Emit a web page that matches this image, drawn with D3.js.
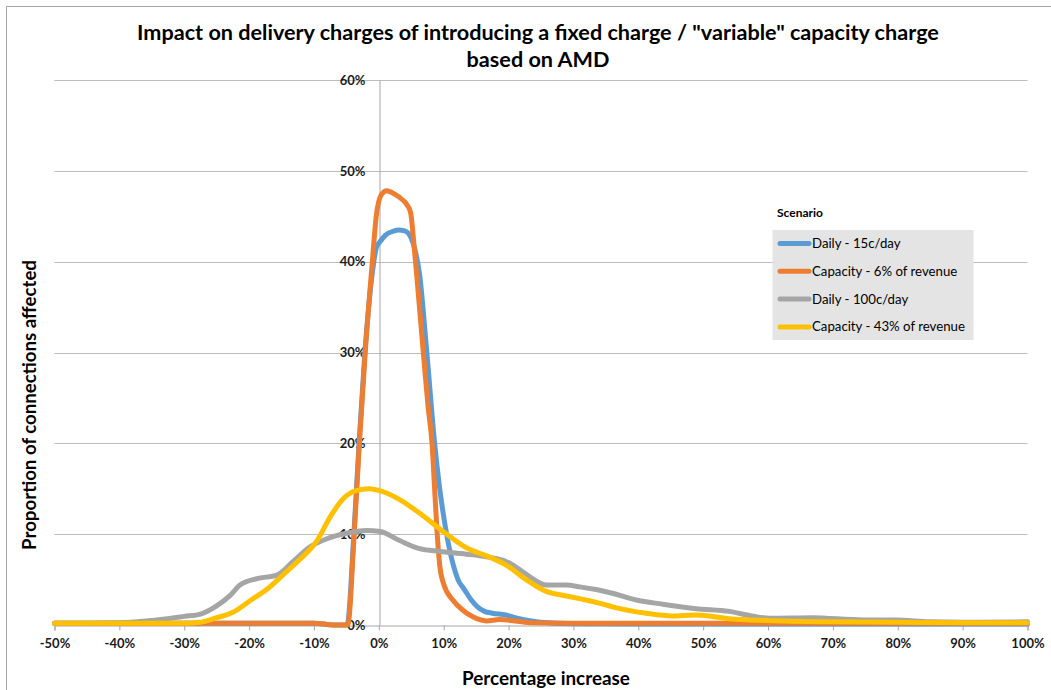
<!DOCTYPE html>
<html>
<head>
<meta charset="utf-8">
<script src="https://cdn.jsdelivr.net/npm/d3@7"></script>
<style>
  body { margin: 0; background: #fff; }
  svg { display: block; }
  text { font-family: Lato, "Open Sans", "DejaVu Sans", sans-serif; }
</style>
</head>
<body>
<svg id="chart" width="1051" height="690"></svg>
<script>
// ---- Axis ticks ----
const xTicks = [-50, -40, -30, -20, -10, 0, 10, 20, 30, 40, 50, 60, 70, 80, 90, 100];
const yTicks = [0, 10, 20, 30, 40, 50, 60];

// ---- Scenario names ----
const scenarios = ["Daily - 15c/day", "Capacity - 6% of revenue", "Daily - 100c/day", "Capacity - 43% of revenue"];

// ---- Daily - 15c/day : percentage increase / share of connections (%) ----
const daily15X = [-50, -40, -30, -20, -10, -7, -4.9, -3.85, -3.05, -2.15, -1.05, -0.4, 0.3, 1, 2, 3, 4, 4.6, 5.3, 6.3, 7.4, 8.6, 9.3, 10.4, 11.4, 12.2, 13.2, 14.2, 15.2, 16.3, 17.5, 19.6, 21, 22.7, 25, 30, 40, 50, 60, 70, 80, 90, 100];
const daily15Y = [0.2, 0.2, 0.2, 0.2, 0.2, 0, 0, 10, 20, 30, 38.5, 41.5, 42.3, 42.9, 43.3, 43.5, 43.4, 43.1, 42, 38.5, 30, 20, 15.5, 10.2, 6.8, 5, 3.9, 2.8, 2, 1.5, 1.3, 1.1, 0.8, 0.55, 0.3, 0.15, 0.1, 0.1, 0.1, 0.1, 0.1, 0.1, 0.1];

// ---- Capacity - 6% of revenue ----
const cap6X = [-50, -40, -30, -20, -10, -7, -4.8, -3.8, -3.0, -2.1, -1.0, -0.4, 0.4, 1.2, 2.5, 3.5, 4.3, 4.9, 5.4, 5.9, 6.5, 7.1, 7.6, 8.2, 8.6, 9.0, 9.4, 10, 11.4, 13, 14.5, 16.6, 18.6, 21, 23.7, 30, 40, 50, 60, 70, 80, 90, 100];
const cap6Y = [0.2, 0.2, 0.2, 0.2, 0.2, 0, 0, 10, 20, 30, 40, 45, 47.4, 47.8, 47.4, 46.9, 46.3, 45.4, 42, 38, 33, 28, 24, 20, 15, 10, 6.5, 4.5, 2.75, 1.6, 0.9, 0.45, 0.6, 0.45, 0.25, 0.2, 0.2, 0.2, 0.2, 0.2, 0.2, 0.2, 0.2];

// ---- Daily - 100c/day ----
const daily100X = [-50, -45, -40, -35, -32.6, -30, -27.5, -25, -23, -21.4, -18.8, -15.7, -13.2, -10.6, -8, -5, -1.9, 0.2, 3.2, 6.3, 9.4, 13.5, 16.6, 19.6, 21.7, 23.7, 25.8, 28.9, 31, 33.5, 36, 39.7, 43.7, 48.9, 54, 57.5, 60.2, 66.8, 74.5, 79.7, 84.8, 90, 100];
const daily100Y = [0.2, 0.2, 0.25, 0.5, 0.7, 0.95, 1.2, 2.1, 3.2, 4.4, 5.1, 5.5, 7, 8.6, 9.5, 10.1, 10.4, 10.3, 9.3, 8.4, 8.1, 7.8, 7.5, 7, 6.1, 5.1, 4.4, 4.4, 4.2, 3.9, 3.5, 2.75, 2.3, 1.8, 1.5, 1, 0.75, 0.8, 0.55, 0.55, 0.35, 0.3, 0.35];

// ---- Capacity - 43% of revenue ----
const cap43X = [-50, -40, -30, -27.5, -25, -22.5, -19.8, -17.3, -14.8, -12.2, -9.6, -7.5, -5.5, -3.5, -1.5, 0.5, 3.2, 6.3, 9.9, 13.5, 17, 19.6, 22.7, 25.8, 28.9, 30.9, 34, 36, 41.2, 45.2, 48.9, 54, 59.7, 70, 80, 90, 100];
const cap43Y = [0.2, 0.2, 0.2, 0.3, 0.8, 1.4, 2.7, 3.9, 5.5, 7.2, 9.2, 11.9, 13.9, 14.8, 15, 14.7, 13.8, 12.3, 10.3, 8.5, 7.5, 6.6, 5, 3.7, 3.2, 2.9, 2.4, 2.0, 1.3, 1.0, 1.1, 0.7, 0.5, 0.35, 0.3, 0.25, 0.25];

const colors = ["#5b9bd5", "#ed7d31", "#a5a5a5", "#ffc000"];

const seriesList = [
  { name: scenarios[0], xs: daily15X, ys: daily15Y, color: colors[0] },
  { name: scenarios[1], xs: cap6X, ys: cap6Y, color: colors[1] },
  { name: scenarios[2], xs: daily100X, ys: daily100Y, color: colors[2] },
  { name: scenarios[3], xs: cap43X, ys: cap43Y, color: colors[3] }
];

const svg = d3.select("#chart");

// Outer chart frame
svg.append("rect")
  .attr("x", 6.5).attr("y", 6.5).attr("width", 1060).attr("height", 700)
  .attr("fill", "#fff").attr("stroke", "#a6a6a6").attr("stroke-width", 1);

const plot = { left: 54.5, right: 1027.5, top: 80, bottom: 625 };

const x = d3.scaleLinear().domain([-50, 100]).range([plot.left, plot.right]);
const y = d3.scaleLinear().domain([0, 60]).range([plot.bottom, plot.top]);

// Horizontal gridlines
svg.append("g")
  .selectAll("line")
  .data(yTicks.filter(d => d > 0))
  .join("line")
  .attr("x1", plot.left).attr("x2", plot.right)
  .attr("y1", d => Math.round(y(d)) + 0.5).attr("y2", d => Math.round(y(d)) + 0.5)
  .attr("stroke", "#bcbcbc").attr("stroke-width", 1);

// X axis along 0%
const xAxis = d3.axisBottom(x)
  .tickValues(xTicks)
  .tickSize(5)
  .tickPadding(8)
  .tickFormat(d => d + "%");
const gx = svg.append("g")
  .attr("transform", `translate(0,${plot.bottom + 0.5})`)
  .call(xAxis);
gx.select(".domain").attr("stroke", "#a6a6a6");
gx.selectAll(".tick line").attr("stroke", "#a6a6a6");
gx.selectAll(".tick text")
  .attr("font-size", 13).attr("font-weight", 700).attr("fill", "#1a1a1a")
  .attr("font-family", "Lato, 'Open Sans', sans-serif");

// Y axis crossing at x = 0%
const yAxis = d3.axisLeft(y)
  .tickValues(yTicks)
  .tickSize(0)
  .tickPadding(14)
  .tickFormat(d => d + "%");
const gy = svg.append("g")
  .attr("transform", `translate(${Math.round(x(0)) + 0.5},0)`)
  .call(yAxis);
gy.select(".domain").attr("stroke", "#a6a6a6");
gy.selectAll(".tick text")
  .attr("font-size", 13).attr("font-weight", 700).attr("fill", "#1a1a1a")
  .attr("font-family", "Lato, 'Open Sans', sans-serif");

// Smoothed series lines
const line = d3.line()
  .x(d => x(d[0]))
  .y(d => y(d[1]))
  .curve(d3.curveMonotoneX);

svg.append("g")
  .selectAll("path")
  .data(seriesList)
  .join("path")
  .attr("d", s => line(s.xs.map((v, i) => [v, s.ys[i]])))
  .attr("fill", "none")
  .attr("stroke", s => s.color)
  .attr("stroke-width", 5)
  .attr("stroke-linejoin", "round")
  .attr("stroke-linecap", "round");

// Fit a text element to a target width by adjusting its font size
function fitWidth(sel, w) {
  const len = sel.node().getComputedTextLength();
  const fs = parseFloat(sel.attr("font-size"));
  sel.attr("font-size", (fs * w / len).toFixed(2));
  return fs * w / len;
}

// Title
const t1 = svg.append("text")
  .attr("x", 538).attr("y", 40)
  .attr("text-anchor", "middle").attr("font-size", 19).attr("font-weight", 700).attr("fill", "#000")
  .text('Impact on delivery charges of introducing a fixed charge / "variable" capacity charge');
const titleSize = fitWidth(t1, 802);
svg.append("text")
  .attr("x", 538).attr("y", 67)
  .attr("text-anchor", "middle").attr("font-size", titleSize).attr("font-weight", 700).attr("fill", "#000")
  .text("based on AMD");

// Axis titles
const xt = svg.append("text")
  .attr("x", 546).attr("y", 685)
  .attr("text-anchor", "middle").attr("font-size", 17).attr("font-weight", 700).attr("fill", "#000")
  .text("Percentage increase");
fitWidth(xt, 168);

const yt = svg.append("text")
  .attr("transform", "translate(36,405) rotate(-90)")
  .attr("text-anchor", "middle").attr("font-size", 17).attr("font-weight", 700).attr("fill", "#000")
  .text("Proportion of connections affected");
fitWidth(yt, 290);

// Legend
const legend = svg.append("g");
legend.append("text")
  .attr("x", 777).attr("y", 217)
  .attr("font-size", 12).attr("font-weight", 700).attr("fill", "#000")
  .text("Scenario");
legend.append("rect")
  .attr("x", 772.5).attr("y", 230).attr("width", 201).attr("height", 110)
  .attr("fill", "#e4e4e4");
const items = legend.selectAll("g.item")
  .data(seriesList)
  .join("g")
  .attr("class", "item")
  .attr("transform", (d, i) => `translate(0,${243.5 + i * 27.8})`);
items.append("line")
  .attr("x1", 780).attr("x2", 809)
  .attr("stroke", d => d.color).attr("stroke-width", 5).attr("stroke-linecap", "round");
const itemText = items.append("text")
  .attr("x", 812).attr("y", 4.5)
  .attr("font-size", 12.5).attr("fill", "#000")
  .text(d => d.name);
fitWidth(d3.select(itemText.nodes()[3]), 153);
itemText.attr("font-size", d3.select(itemText.nodes()[3]).attr("font-size"));
</script>
</body>
</html>
